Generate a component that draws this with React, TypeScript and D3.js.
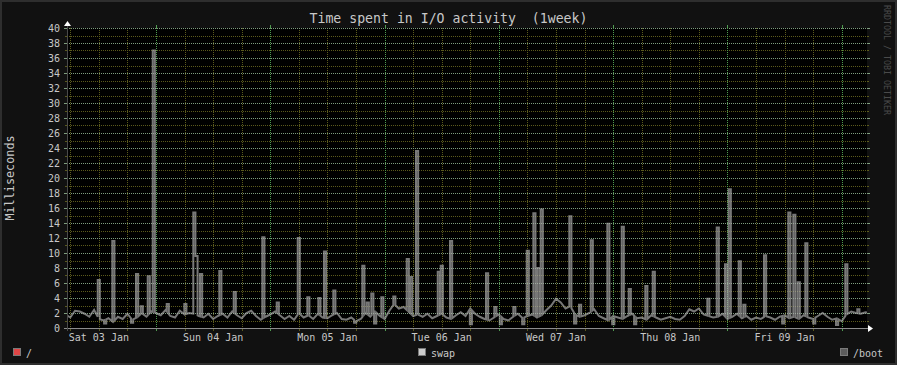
import React from "react";
import * as d3 from "d3";

const WIDTH = 897;
const HEIGHT = 365;

const titleText = "Time spent in I/O activity  (1week)";
const yAxisTitle = "Milliseconds";
const watermarkText = "RRDTOOL / TOBI OETIKER";

// hours are counted from Sat 03 Jan 00:00
const startHour = 5.31;
const spanHours = 168;
const dayLabels = ["Sat 03 Jan", "Sun 04 Jan", "Mon 05 Jan", "Tue 06 Jan", "Wed 07 Jan", "Thu 08 Jan", "Fri 09 Jan"];
const dayLabelHours = [12, 36, 60, 84, 108, 132, 156];
const dayBoundaryHours = [24, 48, 72, 96, 120, 144, 168];
const sixHourLines = [6, 12, 18, 30, 36, 42, 54, 60, 66, 78, 84, 90, 102, 108, 114, 126, 132, 138, 150, 156, 162];

const yMajorTicks = [0, 2, 4, 6, 8, 10, 12, 14, 16, 18, 20, 22, 24, 26, 28, 30, 32, 34, 36, 38, 40];
const yMinorTicks = [1, 3, 5, 7, 9, 11, 13, 15, 17, 19, 21, 23, 25, 27, 29, 31, 33, 35, 37, 39];

const legendNames = ["/", "swap", "/boot"];
const legendColors = ["#e04646", "#cdcdcd", "#5c5c5c"];

// baseline, one value every hour starting at hour 4
const baseFirstHour = 4;
const baseStep = 1;
const baseValues = [
  1.5, 1.8, 1.4, 2.3, 2.2, 1.9, 1.5, 2.4, 1.2, 1.0, 1.3, 0.8, 1.5, 1.2, 1.9, 1.1, 1.4, 2.0, 1.5, 2.2,
  2.0, 1.7, 2.4, 1.6, 1.4, 2.3, 1.8, 2.0, 1.9, 1.6, 1.4, 1.9, 1.2, 1.6, 1.9, 1.4, 2.2, 1.7, 1.3, 2.0, 2.3, 1.6, 1.1, 1.5,
  1.8, 2.2, 1.7, 1.2, 1.6, 1.1, 2.0, 1.4, 1.7, 1.2, 1.9, 1.4, 1.3, 1.7, 2.0, 1.2, 1.1, 1.4, 0.9, 1.2, 2.0, 1.5, 2.2, 1.6,
  1.2, 2.3, 3.2, 2.6, 2.8, 2.2, 1.6, 1.8, 1.5, 1.9, 1.3, 1.6, 1.9, 1.4, 1.2, 1.7, 2.1, 1.6, 2.6, 1.9, 1.5, 1.2, 1.0, 1.4,
  1.8, 1.2, 1.0, 1.5, 1.9, 1.3, 1.6, 1.8, 1.4, 1.7, 2.4, 3.0, 3.9, 3.4, 2.6, 2.9, 1.8, 1.5, 1.7, 2.0, 2.5, 1.6, 1.3, 1.0,
  1.6, 1.4, 1.2, 1.6, 1.9, 1.3, 1.4, 1.1, 1.7, 1.4, 1.1, 1.3, 1.5, 1.2, 1.1, 1.6, 2.5, 2.2, 2.6, 1.8, 1.6, 1.4, 1.5, 1.9,
  1.2, 1.5, 1.9, 1.3, 1.6, 1.1, 1.4, 1.2, 1.6, 1.4, 1.1, 1.5, 1.7, 1.3, 1.5, 1.2, 1.7, 1.4, 1.2, 1.6, 2.0, 1.5, 1.1, 1.3,
  0.9, 1.8, 2.2, 2.0, 1.9, 2.1, 2.0,
];

// short bursts: [hour, milliseconds]
const burstHours = [
  11.76, 13.1, 14.82, 18.75, 19.8, 20.79, 22.26, 23.31, 26.25, 29.94,
  31.83, 32.28, 33.24, 37.29, 40.32, 46.32, 49.35, 53.76, 55.77, 58.09,
  59.28, 61.23, 65.6, 67.32, 68.25, 69.21, 69.8, 71.31, 73.83, 76.65,
  77.34, 78.6, 83.16, 83.79, 85.74, 89.9, 93.3, 95.04, 96.2, 99.03,
  100.9, 101.85, 103.24, 104.07, 104.79, 110.79, 111.8, 112.83, 115.29, 118.77,
  119.8, 121.8, 123.27, 124.4, 126.75, 128.31, 139.77, 141.75, 143.49, 144.27,
  146.37, 147.33, 151.68, 155.5, 156.78, 157.83, 158.76, 160.35, 162.0, 166.8,
  168.75, 171.27,
];
const burstValues = [
  6.4, 0.6, 11.6, 0.7, 7.2, 2.9, 6.9, 37.0, 3.2, 3.2,
  15.4, 9.6, 7.2, 7.6, 4.8, 12.1, 3.4, 12.0, 4.1, 4.0,
  10.2, 5.0, 0.7, 8.3, 3.4, 4.6, 0.6, 4.1, 4.2, 9.2,
  6.8, 23.6, 7.5, 8.3, 11.6, 0.5, 7.3, 2.8, 0.5, 2.8,
  0.5, 10.3, 15.3, 8.0, 15.8, 14.9, 0.6, 3.1, 11.7, 13.9,
  0.5, 13.5, 5.2, 0.5, 5.6, 7.5, 3.9, 13.4, 8.5, 18.5,
  8.9, 3.1, 9.7, 0.6, 15.4, 15.1, 6.1, 11.3, 0.6, 0.4,
  8.5, 2.5,
];
const burstLength = 0.45; // hours

function buildPoints(): [number, number][] {
  const baseHours = baseValues.map((_, i) => baseFirstHour + i * baseStep);
  const baseAt = d3.scaleLinear().domain(baseHours).range(baseValues);
  const pts: [number, number][] = [];
  let bi = 0;
  let lastEnd = -Infinity;
  for (let k = 0; k < burstHours.length; k++) {
    const h = burstHours[k];
    const v = burstValues[k];
    const next = k + 1 < burstHours.length ? burstHours[k + 1] : Infinity;
    const end = Math.min(h + burstLength, next);
    while (bi < baseHours.length && baseHours[bi] < h) {
      if (baseHours[bi] > lastEnd) pts.push([baseHours[bi], baseValues[bi]]);
      bi++;
    }
    if (lastEnd < h) pts.push([h, baseAt(h)]);
    pts.push([h, v]);
    pts.push([end, v]);
    if (next > end) pts.push([end, baseAt(end)]);
    lastEnd = end;
  }
  while (bi < baseHours.length) {
    if (baseHours[bi] > lastEnd) pts.push([baseHours[bi], baseValues[bi]]);
    bi++;
  }
  return pts;
}

export default function App() {
  const left = 67, right = 867, top = 28, bottom = 328;
  const x = d3.scaleLinear().domain([startHour, startHour + spanHours]).range([left, right]);
  const y = d3.scaleLinear().domain([0, 40]).range([bottom, top]);
  const pts = buildPoints();
  const line = d3.line<[number, number]>().x((d) => x(d[0])).y((d) => y(d[1]));

  const minorCol = "#5b5a1c";
  const majorHCol = "#7e9c7e";
  const majorVCol = "#4f9a4f";
  const textCol = "#c8c8c8";
  const snap = (v: number) => Math.round(v) + 0.5;

  return (
    <svg
      width={WIDTH}
      height={HEIGHT}
      style={{ position: "fixed", left: 0, top: 0, display: "block" }}
      fontFamily="DejaVu Sans Mono"
    >
      <defs>
        <clipPath id="plotclip">
          <rect x={left} y={top - 2} width={right - left} height={bottom - top + 2} />
        </clipPath>
      </defs>
      <rect x={0} y={0} width={WIDTH} height={HEIGHT} fill="#111111" />
      <rect x={1} y={1} width={WIDTH - 2} height={HEIGHT - 2} fill="none" stroke="#2e2e2e" strokeWidth={2} />
      <rect x={left} y={top} width={right - left} height={bottom - top} fill="#000000" />

      {yMinorTicks.map((t) => (
        <g key={"mh" + t}>
          <line x1={left} x2={right} y1={snap(y(t))} y2={snap(y(t))} stroke={minorCol} strokeDasharray="1,1" />
          <line x1={left - 2} x2={left} y1={snap(y(t))} y2={snap(y(t))} stroke={minorCol} />
          <line x1={right} x2={right + 2} y1={snap(y(t))} y2={snap(y(t))} stroke={minorCol} />
        </g>
      ))}
      {sixHourLines.map((h) => (
        <g key={"mv" + h}>
          <line x1={snap(x(h))} x2={snap(x(h))} y1={top} y2={bottom} stroke={minorCol} strokeDasharray="1,1" />
          <line x1={snap(x(h))} x2={snap(x(h))} y1={bottom} y2={bottom + 3} stroke={minorCol} />
        </g>
      ))}
      {yMajorTicks.map((t) => (
        <g key={"Mh" + t}>
          <line x1={left} x2={right} y1={snap(y(t))} y2={snap(y(t))} stroke={majorHCol} strokeDasharray="1,1" />
          <line x1={left - 3} x2={left} y1={snap(y(t))} y2={snap(y(t))} stroke={majorHCol} />
          <line x1={right} x2={right + 3} y1={snap(y(t))} y2={snap(y(t))} stroke={majorHCol} />
        </g>
      ))}
      {dayBoundaryHours.map((h) => (
        <g key={"Mv" + h}>
          <line x1={snap(x(h))} x2={snap(x(h))} y1={top} y2={bottom} stroke={majorVCol} strokeDasharray="1,1" />
          <line x1={snap(x(h))} x2={snap(x(h))} y1={top - 3} y2={top} stroke={majorVCol} />
          <line x1={snap(x(h))} x2={snap(x(h))} y1={bottom} y2={bottom + 3} stroke={majorVCol} />
        </g>
      ))}

      <path
        d={line(pts) || ""}
        fill="none"
        stroke="#b0b0b0"
        strokeOpacity={0.68}
        strokeWidth={2}
        strokeLinejoin="miter"
        clipPath="url(#plotclip)"
      />

      <line x1={left - 3} x2={right + 3} y1={bottom + 0.5} y2={bottom + 0.5} stroke="#8c8c8c" />
      <line x1={left + 0.5} x2={left + 0.5} y1={top - 5} y2={bottom + 3} stroke="#4a4a4a" />
      <path d={`M${right + 1},${bottom - 3} L${right + 6},${bottom + 0.5} L${right + 1},${bottom + 4} Z`} fill="#ffffff" />
      <path d={`M${left - 3},${top - 2} L${left + 0.5},${top - 7} L${left + 4},${top - 2} Z`} fill="#ffffff" />

      {yMajorTicks.map((t) => (
        <text key={"yl" + t} x={60} y={y(t)} dy="0.36em" textAnchor="end" fontSize={10} fill={textCol}>
          {t}
        </text>
      ))}
      {dayLabels.map((lab, i) => (
        <text key={lab} x={x(dayLabelHours[i])} y={341} textAnchor="middle" fontSize={10} fill={textCol}>
          {lab}
        </text>
      ))}

      <text x={WIDTH / 2} y={23} textAnchor="middle" fontSize={13.2} fill={textCol} style={{ whiteSpace: "pre" }}>
        {titleText}
      </text>
      <text transform={`translate(14,${178}) rotate(-90)`} textAnchor="middle" fontSize={11.8} fill={textCol}>
        {yAxisTitle}
      </text>
      <text transform={`translate(884,${5}) rotate(90)`} textAnchor="start" fontSize={8.3} fill="#4a4a4a">
        {watermarkText}
      </text>

      {legendNames.map((name, i) => {
        const bx = [13, 418, 840][i];
        return (
          <g key={name}>
            <rect x={bx + 0.5} y={348.5} width={7} height={7} fill={legendColors[i]} stroke="#7a7a7a" />
            <text x={bx + 13} y={357} fontSize={10} fill={textCol}>
              {name}
            </text>
          </g>
        );
      })}
    </svg>
  );
}
